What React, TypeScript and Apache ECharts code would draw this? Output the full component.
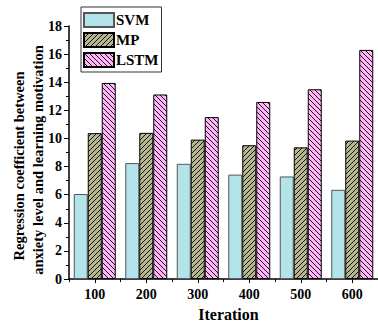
import React, { useEffect, useRef } from "react";
import * as echarts from "echarts";

const categories = ["100", "200", "300", "400", "500", "600"];
const svm = [6.05, 8.25, 8.2, 7.43, 7.3, 6.35];
const mp = [10.38, 10.4, 9.92, 9.52, 9.37, 9.85];
const lstm = [13.95, 13.13, 11.52, 12.6, 13.5, 16.3];
const yTitle1 = "Regression coefficient between";
const yTitle2 = "anxiety level and learning motivation";
const xTitle = "Iteration";

const FONT = '"Liberation Serif", "Times New Roman", serif';

function makeHatch(bg: string, forward: boolean) {
  const s = 5;
  const c = document.createElement("canvas");
  c.width = s;
  c.height = s;
  const ctx = c.getContext("2d")!;
  ctx.fillStyle = bg;
  ctx.fillRect(0, 0, s, s);
  ctx.strokeStyle = "#000";
  ctx.lineWidth = 0.9;
  ctx.beginPath();
  if (forward) {
    // "/" lines
    ctx.moveTo(-1, s + 1);
    ctx.lineTo(s + 1, -1);
    ctx.moveTo(-1, 1);
    ctx.lineTo(1, -1);
    ctx.moveTo(s - 1, s + 1);
    ctx.lineTo(s + 1, s - 1);
  } else {
    // "\" lines
    ctx.moveTo(-1, -1);
    ctx.lineTo(s + 1, s + 1);
    ctx.moveTo(s - 1, -1);
    ctx.lineTo(s + 1, 1);
    ctx.moveTo(-1, s - 1);
    ctx.lineTo(1, s + 1);
  }
  ctx.stroke();
  return { image: c, repeat: "repeat" };
}

export default function App() {
  const ref = useRef<HTMLDivElement>(null);
  useEffect(() => {
    if (!ref.current) return;
    const chart = echarts.init(ref.current, undefined, { renderer: "svg" });
    chart.setOption({
      animation: false,
      backgroundColor: "#fff",
      grid: { left: 69, right: -7, top: 26, bottom: 43.5, containLabel: false },
      legend: {
        orient: "vertical",
        left: 81,
        top: 7,
        padding: [5, 3, 4, 2],
        itemWidth: 30,
        itemHeight: 14,
        itemGap: 4,
        icon: "rect",
        borderColor: "#333",
        borderWidth: 1,
        borderRadius: 0,
        textStyle: {
          fontFamily: FONT,
          fontWeight: "bold",
          fontSize: 15,
          color: "#000",
          padding: [0, 0, 0, -3],
        },
        data: ["SVM", "MP", "LSTM"],
      },
      xAxis: [
        {
          type: "category",
          data: categories,
          position: "bottom",
          name: xTitle,
          nameLocation: "middle",
          nameGap: 25,
          nameTextStyle: {
            fontFamily: FONT,
            fontWeight: "bold",
            fontSize: 16,
            color: "#000",
            padding: [0, 0, 0, 10],
          },
          axisLine: { show: true, lineStyle: { color: "#000", width: 1.5 } },
          axisTick: { show: true, alignWithLabel: true, length: 4, lineStyle: { color: "#000", width: 1 } },
          axisLabel: {
            fontFamily: FONT,
            fontWeight: "bold",
            fontSize: 14,
            color: "#000",
            margin: 8,
          },
          splitLine: { show: false },
        },
        {
          type: "category",
          data: categories,
          position: "bottom",
          axisLine: { show: false },
          axisTick: { show: true, length: 3, lineStyle: { color: "#000", width: 1 } },
          axisLabel: { show: false },
          splitLine: { show: false },
        },
      ],
      yAxis: {
        type: "value",
        min: 0,
        max: 18,
        interval: 2,
        axisLine: { show: true, lineStyle: { color: "#000", width: 1.5 } },
        axisTick: { show: true, length: 5, lineStyle: { color: "#000", width: 1 } },
        minorTick: { show: true, splitNumber: 2, length: 3, lineStyle: { color: "#000", width: 1 } },
        axisLabel: {
          fontFamily: FONT,
          fontWeight: "bold",
          fontSize: 14,
          color: "#000",
          margin: 7,
        },
        splitLine: { show: false },
      },
      graphic: [
        {
          type: "text",
          x: 19,
          y: 166,
          rotation: Math.PI / 2,
          style: {
            text: yTitle1,
            font: `bold 14.5px ${FONT}`,
            fill: "#000",
            align: "center",
            verticalAlign: "middle",
          },
        },
        {
          type: "text",
          x: 38,
          y: 160,
          rotation: Math.PI / 2,
          style: {
            text: yTitle2,
            font: `bold 14.5px ${FONT}`,
            fill: "#000",
            align: "center",
            verticalAlign: "middle",
          },
        },
      ],
      series: [
        {
          name: "SVM",
          type: "bar",
          data: svm,
          barWidth: 14,
          barGap: "0%",
          itemStyle: { color: "#b3e4ea", borderColor: "#555", borderWidth: 1 },
        },
        {
          name: "MP",
          type: "bar",
          data: mp,
          barWidth: 14,
          barGap: "0%",
          itemStyle: { color: makeHatch("#b6b690", true), borderColor: "#000", borderWidth: 1 },
        },
        {
          name: "LSTM",
          type: "bar",
          data: lstm,
          barWidth: 14,
          barGap: "0%",
          itemStyle: { color: makeHatch("#ffb5f7", false), borderColor: "#000", borderWidth: 1 },
        },
      ],
    });
    return () => chart.dispose();
  }, []);
  return (
    <div
      ref={ref}
      style={{ position: "fixed", left: 0, top: 0, width: 378, height: 327 }}
    />
  );
}
